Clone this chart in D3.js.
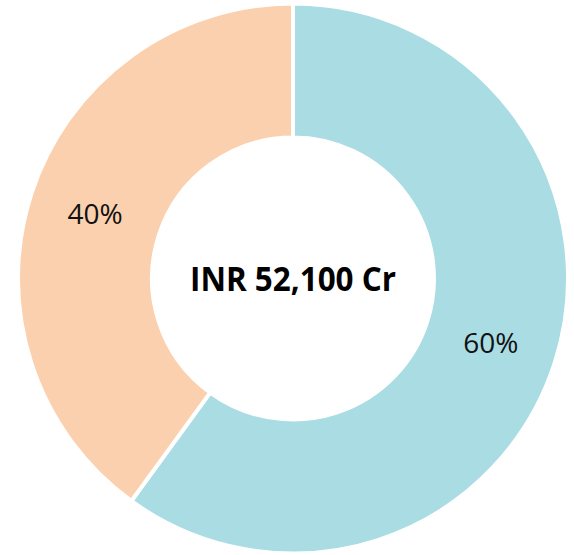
<!DOCTYPE html>
<html lang="en">
<head>
<meta charset="UTF-8">
<title>Donut</title>
<script src="https://cdnjs.cloudflare.com/ajax/libs/d3/7.8.4/d3.min.js"></script>
<style>
  body { margin: 0; background: #fff; }
  text { font-family: "Open Sans", sans-serif; }
</style>
</head>
<body>
<div class="holder"></div>
<script>
  const categories = ["Segment A", "Segment B"];
  const shares = [60, 40];
  const centerLabel = "INR 52,100 Cr";
  const colors = ["#a9dce3", "#fbd0ae"];

  const w = 574, h = 555;
  const cx = 293, cy = 278.5;
  const outerR = 275, innerR = 141;

  const svg = d3.select(".holder").append("svg")
    .attr("width", w)
    .attr("height", h);

  const g = svg.append("g").attr("transform", `translate(${cx},${cy})`);

  const pie = d3.pie().sort(null).value(d => d);
  const arc = d3.arc().innerRadius(innerR).outerRadius(outerR);

  const arcs = pie(shares);

  g.selectAll("path")
    .data(arcs)
    .enter()
    .append("path")
    .attr("d", arc)
    .attr("fill", (d, i) => colors[i])
    .attr("stroke", "#fff")
    .attr("stroke-width", 4);

  g.selectAll("text.lbl")
    .data(arcs)
    .enter()
    .append("text")
    .attr("class", "lbl")
    .attr("transform", d => `translate(${arc.centroid(d)})`)
    .attr("text-anchor", "middle")
    .attr("dy", "0.36em")
    .style("font-size", "28px")
    .style("fill", "#111")
    .text(d => d.data + "%");

  g.append("text")
    .attr("text-anchor", "middle")
    .attr("dy", "0.36em")
    .attr("textLength", 206)
    .attr("lengthAdjust", "spacingAndGlyphs")
    .style("font-size", "34px")
    .style("font-weight", "bold")
    .style("fill", "#000")
    .text(centerLabel);
</script>
</body>
</html>
